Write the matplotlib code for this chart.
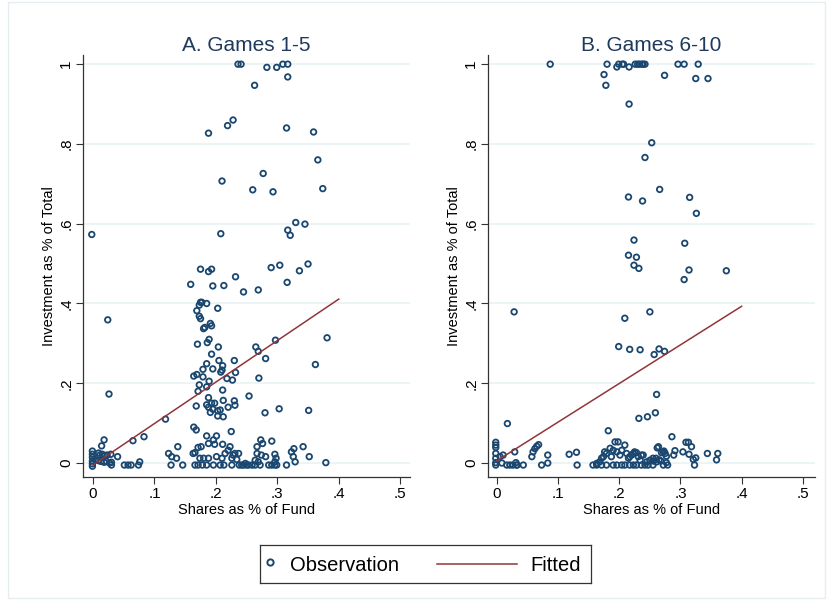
import matplotlib
matplotlib.use("Agg")
import matplotlib.pyplot as plt
from matplotlib.patches import Rectangle

plt.rcParams["font.family"] = ["Liberation Sans", "DejaVu Sans"]

# Panel A: Games 1-5 (shares as % of fund, investment as % of total)
a_x = [0.236, 0.241, 0.283, 0.299, 0.309, 0.317, 0.317, 0.263,
       0.228, 0.219, 0.188, 0.315, 0.359, 0.366, 0.277, 0.210,
       0.260, 0.293, 0.374, -0.002, 0.208, 0.330, 0.345, 0.317, 0.321,
       0.175, 0.188, 0.193, 0.290, 0.304, 0.336, 0.350,
       0.159, 0.195, 0.213, 0.232, 0.245, 0.269, 0.316,
       0.175, 0.173, 0.177, 0.185, 0.203, 0.169, 0.173, 0.175,
       0.191, 0.193, 0.182, 0.180, 0.024,
       0.189, 0.186, 0.170, 0.204, 0.265, 0.269, 0.297, 0.381,
       0.281, 0.193, 0.205, 0.230, 0.185, 0.211, 0.210, 0.179, 0.195,
       0.362, 0.164, 0.169, 0.179, 0.208, 0.232,
       0.173, 0.171, 0.189, 0.185, 0.218, 0.227, 0.270, 0.211, 0.188, 0.168,
       0.185, 0.193, 0.198, 0.188, 0.195, 0.191, 0.203, 0.207, 0.203, 0.212,
       0.212, 0.230, 0.220, 0.231,
       0.254, 0.280, 0.303, 0.351, 0.118, 0.026,
       0.164, 0.168, 0.225, 0.185, 0.201, 0.273, 0.291, 0.065, 0.083, 0.018, 0.014,
       -0.001, -0.001, -0.001, -0.001, -0.001, 0.009, 0.011, 0.015, 0.019, 0.023, 0.029,
       0.004, 0.009, 0.013, 0.018, 0.022, 0.027, 0.030, 0.030,
       0.040, 0.051, 0.057, 0.062, 0.074, 0.076, -0.001,
       0.123, 0.128, 0.138, 0.136, 0.127, 0.146,
       0.163, 0.166, 0.171, 0.176, 0.174, 0.180, 0.166, 0.171, 0.178, 0.185,
       0.188, 0.196, 0.196, 0.198, 0.207, 0.210, 0.211, 0.213, 0.215, 0.220,
       0.223, 0.226, 0.226, 0.228, 0.231, 0.234, 0.237, 0.238, 0.242, 0.245,
       0.248, 0.250, 0.188, 0.201,
       0.276, 0.267, 0.267, 0.274, 0.281, 0.296, 0.298, 0.323, 0.327, 0.326,
       0.329, 0.342, 0.352, 0.379, 0.264, 0.269, 0.296,
       0.253, 0.259, 0.264, 0.272, 0.286, 0.291, 0.296, 0.299, 0.315]
a_y = [1.000, 1.000, 0.992, 0.992, 1.000, 1.000, 0.968, 0.947,
       0.860, 0.846, 0.827, 0.840, 0.830, 0.760, 0.726, 0.707,
       0.685, 0.680, 0.688, 0.573, 0.575, 0.603, 0.599, 0.584, 0.571,
       0.486, 0.480, 0.486, 0.490, 0.496, 0.482, 0.499,
       0.448, 0.444, 0.445, 0.467, 0.429, 0.434, 0.453,
       0.403, 0.396, 0.403, 0.400, 0.388, 0.382, 0.368, 0.362,
       0.350, 0.344, 0.340, 0.337, 0.359,
       0.310, 0.302, 0.298, 0.291, 0.291, 0.280, 0.308, 0.314,
       0.262, 0.273, 0.257, 0.257, 0.249, 0.244, 0.233, 0.235, 0.236,
       0.247, 0.218, 0.222, 0.216, 0.228, 0.227,
       0.196, 0.180, 0.205, 0.191, 0.212, 0.208, 0.213, 0.183, 0.164, 0.143,
       0.146, 0.150, 0.150, 0.140, 0.135, 0.127, 0.131, 0.133, 0.118, 0.116,
       0.157, 0.156, 0.140, 0.145,
       0.168, 0.126, 0.136, 0.132, 0.110, 0.173,
       0.090, 0.083, 0.079, 0.068, 0.068, 0.058, 0.055, 0.056, 0.066, 0.058, 0.043,
       0.030, 0.022, 0.014, 0.005, -0.002, 0.025, 0.020, 0.022, 0.019, 0.020, 0.022,
       0.008, 0.006, 0.004, 0.002, 0.004, 0.000, -0.005, 0.002,
       0.016, -0.005, -0.005, -0.005, -0.005, 0.003, -0.008,
       0.024, 0.016, 0.041, 0.012, -0.005, -0.005,
       0.024, 0.026, 0.039, 0.041, 0.012, 0.012, -0.005, -0.005, -0.005, -0.005,
       0.049, 0.058, -0.005, 0.047, -0.005, 0.012, 0.047, -0.005, 0.024, 0.032,
       0.041, 0.012, -0.005, 0.020, 0.024, 0.009, 0.024, -0.005, -0.005, -0.005,
       -0.001, -0.005, 0.012, 0.016,
       0.049, 0.041, 0.024, 0.020, 0.016, 0.022, 0.012, 0.028, 0.036, 0.016,
       0.003, 0.041, 0.016, 0.001, 0.007, 0.003, 0.003,
       -0.005, -0.005, -0.005, -0.005, -0.005, -0.005, -0.005, -0.005, -0.005]

# Panel B: Games 6-10
b_x = [0.087, 0.180, 0.196, 0.199, 0.205, 0.207, 0.216, 0.226, 0.230, 0.233,
       0.237, 0.239, 0.242, 0.296, 0.306, 0.329,
       0.175, 0.178, 0.274, 0.325, 0.345, 0.216, 0.253, 0.242, 0.266, 0.215,
       0.238, 0.315, 0.326,
       0.224, 0.307, 0.215, 0.228, 0.224, 0.232, 0.306, 0.314, 0.375,
       0.028, 0.250, 0.209, 0.199, 0.217, 0.234, 0.257, 0.265, 0.274,
       0.261, 0.259, 0.246, 0.232, 0.017, 0.182, 0.286,
       -0.002, -0.002, -0.002, -0.002, -0.002, -0.002, -0.002, 0.005, 0.010, 0.008,
       0.016, 0.021, 0.026, 0.032, 0.043, 0.029, 0.033, 0.031,
       0.057, 0.059, 0.062, 0.065, 0.068, 0.073, 0.083, 0.083,
       0.118, 0.130, 0.131,
       0.157, 0.163, 0.168, 0.171, 0.174, 0.176, 0.179, 0.185, 0.187, 0.190,
       0.193, 0.196, 0.198, 0.201, 0.204, 0.209, 0.212, 0.215, 0.217, 0.220,
       0.223, 0.225, 0.228, 0.231, 0.234, 0.236, 0.239, 0.245, 0.250, 0.255,
       0.163, 0.171, 0.179, 0.190, 0.196, 0.204, 0.209, 0.217, 0.223, 0.228,
       0.236, 0.242, 0.247,
       0.309, 0.313, 0.318, 0.264, 0.272, 0.275, 0.277, 0.291, 0.289, 0.304,
       0.314, 0.321, 0.325, 0.323, 0.344, 0.361, 0.359,
       0.256, 0.261, 0.265, 0.268, 0.272, 0.277, 0.279, 0.255, 0.260,
       0.262, 0.273, 0.269]
b_y = [1.000, 1.000, 0.993, 1.000, 1.000, 1.000, 0.993, 1.000, 1.000, 1.000,
       1.000, 1.000, 1.000, 1.000, 1.000, 1.000,
       0.974, 0.947, 0.972, 0.964, 0.964, 0.900, 0.803, 0.766, 0.686, 0.667,
       0.657, 0.666, 0.626,
       0.559, 0.551, 0.521, 0.516, 0.496, 0.488, 0.460, 0.484, 0.482,
       0.379, 0.379, 0.363, 0.292, 0.285, 0.284, 0.272, 0.286, 0.280,
       0.172, 0.126, 0.116, 0.112, 0.099, 0.081, 0.066,
       0.052, 0.045, 0.039, 0.024, 0.012, 0.001, -0.005, 0.016, 0.020, 0.000,
       -0.005, -0.005, -0.005, -0.005, -0.005, 0.028, -0.005, 0.001,
       0.016, 0.028, 0.036, 0.042, 0.046, -0.005, 0.000, 0.020,
       0.022, 0.027, -0.005,
       -0.005, -0.001, 0.003, 0.012, 0.016, 0.028, 0.024, 0.037, 0.016, 0.032,
       0.053, 0.028, 0.053, 0.020, 0.032, 0.045, 0.024, 0.012, 0.016, 0.020,
       0.024, 0.028, 0.026, 0.016, 0.007, 0.020, 0.020, 0.003, 0.007, 0.012,
       -0.005, -0.005, -0.005, -0.005, -0.005, -0.005, -0.005, -0.005, -0.005, -0.005,
       -0.005, -0.005, -0.005,
       0.052, 0.052, 0.041, 0.041, 0.028, 0.024, 0.017, 0.031, 0.020, 0.028,
       0.022, 0.009, 0.013, -0.005, 0.024, 0.024, 0.008,
       0.005, 0.003, 0.008, 0.005, -0.005, 0.001, -0.005, -0.005, 0.012,
       0.038, 0.030, 0.026]

# Fitted lines (values read at x = 0 and x = .4)
fit_x = [0.0, 0.4]
fit_a = [-0.005, 0.411]
fit_b = [0.006, 0.393]

panels = [
    ("A. Games 1-5", a_x, a_y, fit_a, [83, 410], [-0.0163, 0.516]),
    ("B. Games 6-10", b_x, b_y, fit_b, [488, 815], [-0.0147, 0.520]),
]

x_ticks = [0, 0.1, 0.2, 0.3, 0.4, 0.5]
x_tick_labels = ["0", ".1", ".2", ".3", ".4", ".5"]
y_ticks = [0, 0.2, 0.4, 0.6, 0.8, 1.0]
y_tick_labels = ["0", ".2", ".4", ".6", ".8", "1"]

navy = "#1a476f"
maroon = "#90353b"
title_color = "#1e3a5c"

W, H = 835, 604
fig = plt.figure(figsize=(W / 100, H / 100), dpi=100)
fig.patch.set_facecolor("white")

# faint outer frame like the Stata graph region
fig.patches.append(Rectangle((8 / W, 6 / H), 817 / W, 596 / H, transform=fig.transFigure,
                             fill=False, edgecolor="#e6edf1", linewidth=1.0))

for title, xs, ys, fit, (left_px, right_px), xlim in panels:
    ax = fig.add_axes([left_px / W, (H - 477) / H, (right_px - left_px) / W, (477 - 55) / H])
    ax.set_xlim(*xlim)
    ax.set_ylim(-0.035, 1.023)

    for y in y_ticks:
        ax.axhline(y, color="#eaf2f3", linewidth=1.2, zorder=0)

    ax.scatter(xs, ys, s=16, facecolors="none", edgecolors=navy, linewidths=1.3, zorder=3)
    ax.plot(fit_x, fit, color=maroon, linewidth=1.1, zorder=4)

    ax.set_xticks(x_ticks)
    ax.set_xticklabels(x_tick_labels, fontsize=11)
    ax.set_yticks(y_ticks)
    ax.set_yticklabels(y_tick_labels, fontsize=11, rotation=90, va="center")
    ax.tick_params(direction="out", length=5, width=0.8, color="#333333", pad=2)

    for side in ["top", "right"]:
        ax.spines[side].set_visible(False)
    for side in ["left", "bottom"]:
        ax.spines[side].set_color("#333333")
        ax.spines[side].set_linewidth(0.9)

    ax.set_xlabel("Shares as % of Fund", fontsize=10.5, labelpad=2)
    ax.set_ylabel("Investment as % of Total", fontsize=10.5, labelpad=2)
    ax.set_title(title, fontsize=15, color=title_color, pad=3)

# shared legend, drawn in its own small box
lax = fig.add_axes([260 / W, (H - 583) / H, 331 / W, 38 / H])
lax.set_xlim(0, 1)
lax.set_ylim(0, 1)
lax.set_xticks([])
lax.set_yticks([])
for side in lax.spines.values():
    side.set_color("#333333")
    side.set_linewidth(0.9)
lax.plot([0.03], [0.55], linestyle="none", marker="o", markersize=4.5,
         markerfacecolor="none", markeredgecolor=navy, markeredgewidth=1.4)
lax.text(0.09, 0.45, "Observation", fontsize=14.5, va="center", ha="left")
lax.plot([0.535, 0.776], [0.5, 0.5], color=maroon, linewidth=1.1)
lax.text(0.816, 0.45, "Fitted", fontsize=14.5, va="center", ha="left")

fig.savefig("out.png", dpi=100)
